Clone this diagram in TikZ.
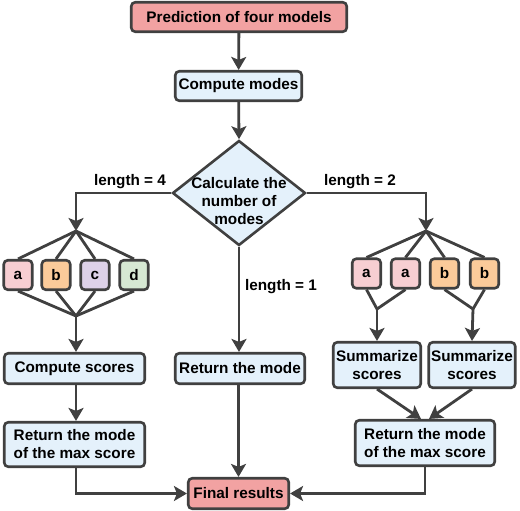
\documentclass[tikz,border=0pt]{standalone}
\usepackage{fontspec}
\setmainfont{Liberation Sans}
\usetikzlibrary{shapes.geometric,
                arrows.meta}

\definecolor{edgegray}{HTML}{404040}
\definecolor{boxred}{HTML}{F2A2A2}
\definecolor{boxblue}{HTML}{E4F1FB}
\definecolor{modea}{HTML}{F7CED2}
\definecolor{modeb}{HTML}{FBCB9A}
\definecolor{modec}{HTML}{DDD1E8}
\definecolor{moded}{HTML}{D6E8D3}

\tikzset{
  txt/.style={font=\bfseries\fontsize{15.3}{18}\selectfont, align=center, inner sep=0pt},
  box/.style={txt, draw=edgegray, line width=2.6pt, rounded corners=4pt, fill=boxblue},
  redbox/.style={box, fill=boxred},
  modebox/.style={box, minimum width=28.5pt, minimum height=29.5pt},
  dia/.style={shape=diamond, draw=edgegray, line width=2.6pt, fill=boxblue, inner sep=0pt,
              minimum width=133pt, minimum height=105pt},
  link/.style={draw=edgegray, line width=2.8pt},
  arr/.style={link, -{Stealth[length=13pt, width=15pt, inset=3pt]}},
}

\begin{document}
\begin{tikzpicture}[x=1pt, y=-1pt]
      \useasboundingbox (0, 0) rectangle (520, 511);
      % middle column
      \node[redbox, minimum width=215.5, minimum height=29.5] (pred) at (239, 17) {Prediction of four models};
      \node[box, minimum width=126.5, minimum height=29.5] (cmodes) at (238.5, 86) {Compute modes};
      \node[dia] (calc) at (239, 193) {};
      \node[txt] (calctext) at (239, 201) {Calculate the\\number of\\modes};
      \node[box, minimum width=129.5, minimum height=30.5] (rmode) at (240, 368.5) {Return the mode};
      \node[redbox, minimum width=100.5, minimum height=30.5] (final) at (238.5, 493.5) {Final results};
      \draw[arr] (pred) -- (cmodes);
      \draw[arr] (cmodes) -- (calc.north);
      \draw[arr] (calc.south) -- (rmode.north -| calc.south);
      \draw[arr] (rmode.south -| final.north) -- (final.north);
      \node[txt] (len1) at (281, 287) {length = 1};

      % length = 4
      \coordinate (split4) at (76, 231);
      \coordinate (join4) at (76, 316);
      \node[modebox, fill=modea] (la) at (18, 275) {a};
      \node[modebox, fill=modeb] (lb) at (56, 275) {b};
      \node[modebox, fill=modec] (lc) at (95, 275) {c};
      \node[modebox, fill=moded] (ld) at (134, 275) {d};
      \node[box, minimum width=140.5, minimum height=30.5] (lscore) at (74.5, 368.5) {Compute scores};
      \node[box, minimum width=140.5, minimum height=44.5] (lmax) at (74.5, 444.5) {Return the mode\\of the max score};
      \draw[arr] (calc.west) -| (split4);
      \node[txt] (len4) at (130, 182) {length = 4};
      \foreach \m in {la, lb, lc, ld} {
        \draw[link] (split4) -- (\m.north);
        \draw[link] (\m.south) -- (join4);
      }
      \draw[arr] (join4) -- (join4 |- lscore.north);
      \draw[arr] (lscore.south -| join4) -- (lmax.north -| join4);
      \draw[arr] (lmax.south -| join4) |- (final.west);

      % length = 2
      \coordinate (split2) at (426, 231);
      \coordinate (joinA) at (377, 309);
      \coordinate (joinB) at (473, 309);
      \node[modebox, fill=modea] (ra1) at (366.5, 273.5) {a};
      \node[modebox, fill=modea] (ra2) at (405.5, 273.5) {a};
      \node[modebox, fill=modeb] (rb1) at (444.5, 273.5) {b};
      \node[modebox, fill=modeb] (rb2) at (484.5, 273.5) {b};
      \node[box, minimum width=87.5, minimum height=45.5] (sumA) at (377, 365) {Summarize\\scores};
      \node[box, minimum width=86.5, minimum height=45.5] (sumB) at (472, 365) {Summarize\\scores};
      \node[box, minimum width=139.5, minimum height=45.5] (rmax) at (425, 443) {Return the mode\\of the max score};
      \draw[arr] (calc.east) -| (split2);
      \node[txt] (len2) at (360, 182) {length = 2};
      \foreach \m in {ra1, ra2, rb1, rb2}
        \draw[link] (split2) -- (\m.north);
      \draw[link] (ra1.south) -- (joinA) -- (ra2.south);
      \draw[link] (rb1.south) -- (joinB) -- (rb2.south);
      \draw[arr] (joinA) -- (sumA.north);
      \draw[arr] (joinB) -- (sumB.north);
      \draw[arr] (sumA.south) -- ([xshift=-4]rmax.north);
      \draw[arr] (sumB.south) -- ([xshift=4]rmax.north);
      \draw[arr] (rmax.south) |- (final.east);
    \end{tikzpicture}
\end{document}
